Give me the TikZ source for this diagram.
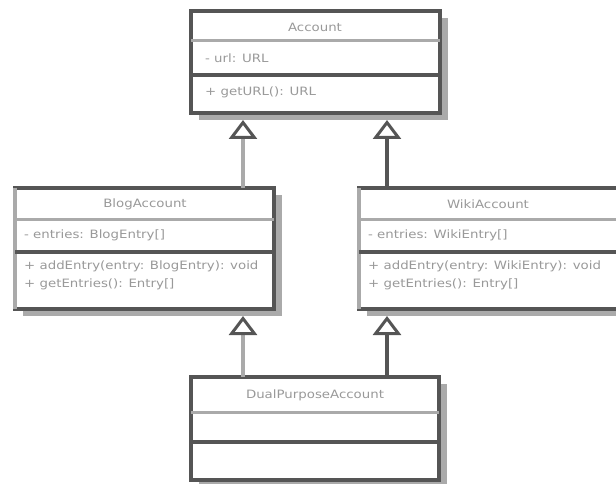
\documentclass[tikz,border=0pt]{standalone}
\usepackage{fontspec}
\setmainfont{DejaVu Sans}[FakeStretch=1.16]
\usetikzlibrary{arrows.meta}
\definecolor{edge}{HTML}{555555}
\definecolor{soft}{HTML}{AAAAAA}
\definecolor{txt}{HTML}{999999}
\tikzset{
  x=1pt, y=-1pt,
  classbox/.style={draw=edge, line width=3.5pt, fill=white, anchor=north west, inner sep=0pt, outer sep=0pt},
  lightsep/.style={draw=soft, line width=3pt},
  darksep/.style={draw=edge, line width=3.5pt},
  lightside/.style={draw=soft, line width=3.5pt},
  title/.style={font=\fontsize{11.5}{13}\selectfont, text=txt, inner sep=0pt},
  member/.style={font=\fontsize{11.5}{13}\selectfont, text=txt, inner sep=0pt, anchor=west},
  inherit/.style={draw=edge, line width=3.5pt, -{Triangle[length=19pt, width=28pt, fill=white, color=edge, line width=3pt]}},
}
\begin{document}
\begin{tikzpicture}
\useasboundingbox (0,0) rectangle (616,484);
\clip (0,0) rectangle (616,484);

% drop shadows
\fill[soft] (199,18) rectangle (448,120);
\fill[soft] (23,195) rectangle (282,316);
\fill[soft] (367,195) rectangle (630,316);
\fill[soft] (199,384) rectangle (447,490);

% Account
\node[classbox, minimum width=249pt, minimum height=102pt] (acc) at (191,11) {};
\draw[lightsep] (acc.west |- 0,41) -- (acc.east |- 0,41);
\draw[darksep] (acc.west |- 0,75) -- (acc.east |- 0,75);
\node[title] (accN) at (315,27) {Account};
\node[member] (accA) at (205,58) {- url: URL};
\node[member] (accO) at (205,92) {+ getURL(): URL};

% BlogAccount
\node[classbox, minimum width=259pt, minimum height=121pt] (blog) at (15,188) {};
\draw[lightside] (blog.north west) -- (blog.south west);
\draw[lightsep] (blog.west |- 0,219) -- (blog.east |- 0,219);
\draw[darksep] (blog.west |- 0,252) -- (blog.east |- 0,252);
\node[title] (blogN) at (145,204) {BlogAccount};
\node[member] (blogA) at (24,235) {- entries: BlogEntry[]};
\node[member] (blogO1) at (24,266) {+ addEntry(entry: BlogEntry): void};
\node[member] (blogO2) at (24,284) {+ getEntries(): Entry[]};

% WikiAccount
\node[classbox, minimum width=262pt, minimum height=121pt] (wiki) at (359,188) {};
\draw[lightside] (wiki.north west) -- (wiki.south west);
\draw[lightsep] (wiki.west |- 0,219) -- (wiki.east |- 0,219);
\draw[darksep] (wiki.west |- 0,252) -- (wiki.east |- 0,252);
\node[title] (wikiN) at (488,204) {WikiAccount};
\node[member] (wikiA) at (368,235) {- entries: WikiEntry[]};
\node[member] (wikiO1) at (368,266) {+ addEntry(entry: WikiEntry): void};
\node[member] (wikiO2) at (368,284) {+ getEntries(): Entry[]};

% DualPurposeAccount
\node[classbox, minimum width=248pt, minimum height=103pt] (dual) at (191,377) {};
\draw[lightsep] (dual.west |- 0,412) -- (dual.east |- 0,412);
\draw[darksep] (dual.west |- 0,442) -- (dual.east |- 0,442);
\node[title] (dualN) at (315,395) {DualPurposeAccount};

% generalisations
\coordinate (lx) at (243,0);
\coordinate (rx) at (387,0);
\draw[inherit, draw=soft] (blog.north -| lx) -- ([yshift=-7pt]acc.south -| lx);
\draw[inherit] (wiki.north -| rx) -- ([yshift=-7pt]acc.south -| rx);
\draw[inherit, draw=soft] (dual.north -| lx) -- ([yshift=-7pt]blog.south -| lx);
\draw[inherit] (dual.north -| rx) -- ([yshift=-7pt]wiki.south -| rx);
\end{tikzpicture}
\end{document}
